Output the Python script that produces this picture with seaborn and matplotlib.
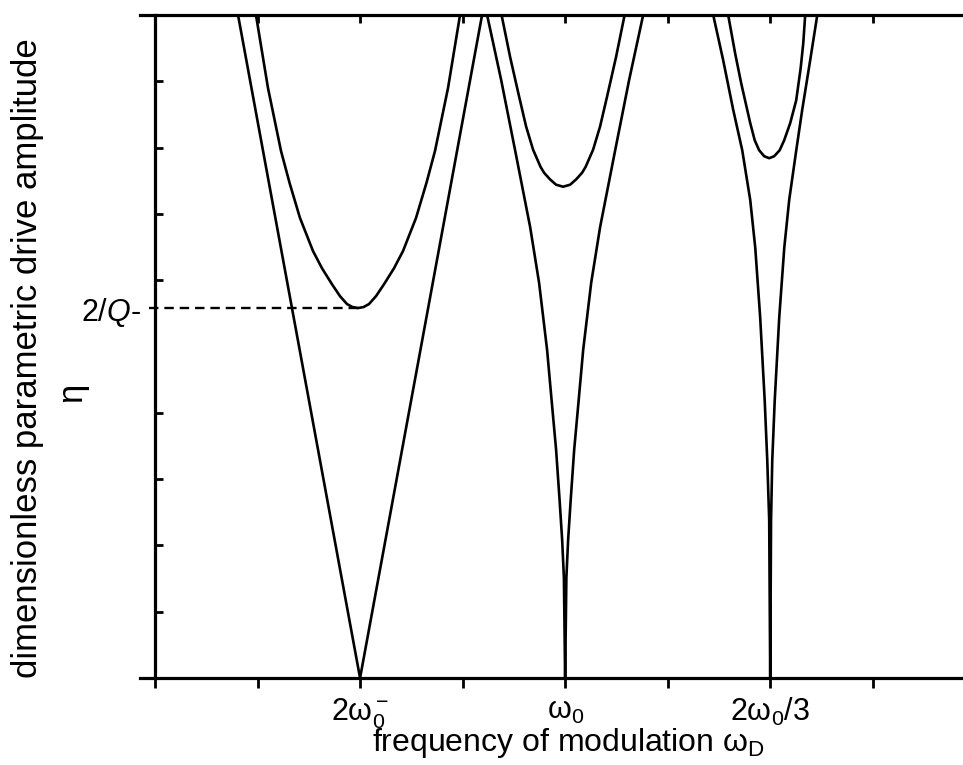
import matplotlib
matplotlib.use("Agg")
import matplotlib.pyplot as plt
from matplotlib.ticker import FixedLocator
import seaborn as sns

# --- valores (x em unidades de tick, y em unidades de tick) ---
two_over_q = 5.58          # limiar 2/Q (minimo da lingua 1 com amortecimento)
x_min_t1 = 1.98

# lingua 1 (2w0), sem amortecimento: V
t1_x = [0.81, 2.00, 3.19]
t1_y = [10.0, 0.0, 10.0]
# lingua 1 com amortecimento
t1d_x = [0.985, 1.102, 1.229, 1.312, 1.414, 1.541, 1.629, 1.726, 1.804, 1.873, 1.926, 1.980,
         2.034, 2.087, 2.156, 2.234, 2.331, 2.419, 2.546, 2.648, 2.731, 2.858, 2.975]
t1d_y = [10.0, 8.90, 7.95, 7.47, 6.94, 6.44, 6.18, 5.94, 5.76, 5.64, 5.595, 5.58,
         5.595, 5.64, 5.76, 5.94, 6.18, 6.44, 6.94, 7.47, 7.95, 8.90, 10.0]

# lingua 2 (w0), sem amortecimento
t2_x = [3.239, 3.376, 3.512, 3.659, 3.746, 3.824, 3.868, 3.912, 3.946, 3.971, 3.988, 4.000,
        4.012, 4.029, 4.054, 4.088, 4.132, 4.176, 4.254, 4.341, 4.488, 4.624, 4.761]
t2_y = [10.0, 9.02, 7.96, 6.80, 5.96, 4.95, 4.19, 3.44, 2.68, 2.08, 1.51, 0.0,
        1.51, 2.08, 2.68, 3.44, 4.19, 4.95, 5.96, 6.80, 7.96, 9.02, 10.0]
# lingua 2 com amortecimento
t2d_x = [3.380, 3.463, 3.551, 3.619, 3.687, 3.760, 3.795, 3.853, 3.912, 3.980,
         4.048, 4.107, 4.165, 4.200, 4.273, 4.341, 4.409, 4.497, 4.580]
t2d_y = [10.0, 9.37, 8.77, 8.32, 7.97, 7.71, 7.62, 7.52, 7.44, 7.41,
         7.44, 7.52, 7.62, 7.71, 7.97, 8.32, 8.77, 9.37, 10.0]

# lingua 3 (2w0/3), sem amortecimento
t3_x = [5.444, 5.541, 5.639, 5.727, 5.805, 5.854, 5.902, 5.946, 5.971, 5.990, 6.000,
        6.008, 6.020, 6.044, 6.088, 6.137, 6.185, 6.254, 6.312, 6.390, 6.459]
t3_y = [10.0, 9.32, 8.57, 7.96, 7.21, 6.49, 5.44, 4.19, 3.29, 2.38, 0.0,
        2.38, 3.29, 4.19, 5.44, 6.49, 7.21, 7.96, 8.57, 9.32, 10.0]
# lingua 3 com amortecimento
t3d_x = [5.590, 5.658, 5.717, 5.761, 5.805, 5.849, 5.892, 5.941, 5.990,
         6.039, 6.092, 6.136, 6.195, 6.253, 6.297, 6.322, 6.341]
t3d_y = [10.0, 9.42, 8.97, 8.67, 8.37, 8.11, 7.96, 7.87, 7.84,
         7.87, 7.96, 8.11, 8.37, 8.71, 9.20, 9.57, 10.0]

x_ticks = [0, 1, 2, 3, 4, 5, 6, 7]
x_ticklabels = ["", "", "2ω$_0^-$", "", "ω$_0$", "", "2ω$_0$/3", ""]
y_minor = [1, 2, 3, 4, 6, 7, 8, 9]

sns.set_style("ticks", rc={"axes.edgecolor": "black", "xtick.color": "black",
                           "ytick.color": "black", "text.color": "black",
                           "axes.labelcolor": "black"})
plt.rcParams["font.family"] = ["Liberation Sans", "DejaVu Sans"]
plt.rcParams["mathtext.fontset"] = "custom"
plt.rcParams["mathtext.rm"] = "Liberation Sans"
plt.rcParams["mathtext.it"] = "Liberation Sans:italic"

fig = plt.figure(figsize=(9.63, 7.65), dpi=100)
ax = fig.add_axes([140 / 963, 87 / 765, 823 / 963, 663 / 765])

curvas = [(t1_x, t1_y), (t1d_x, t1d_y), (t2_x, t2_y), (t2d_x, t2d_y),
          (t3_x, t3_y), (t3d_x, t3d_y)]
for cx, cy in curvas:
    sns.lineplot(x=cx, y=cy, sort=False, estimator=None, color="black",
                 linewidth=1.9, ax=ax)

# linha tracejada em 2/Q
ax.hlines(two_over_q, -0.06, x_min_t1, colors="black", linestyles=(0, (4, 2.5)),
          linewidth=1.7, clip_on=False)

ax.set_xlim(-0.146, 7.88)
ax.set_ylim(0, 10)

for s in ["left", "top", "bottom"]:
    ax.spines[s].set_linewidth(2.3)
ax.spines["right"].set_visible(False)
ax.spines["left"].set_position(("data", 0))

# eixo x (baixo): ticks para fora
ax.set_xticks(x_ticks)
ax.set_xticklabels(x_ticklabels, fontsize=22)
ax.tick_params(axis="x", direction="out", length=7, width=2, pad=6)

# eixo x (topo): ticks para dentro
sec = ax.secondary_xaxis("top")
sec.set_xticks(x_ticks[1:])
sec.set_xticklabels([])
sec.tick_params(direction="in", length=6, width=2)
sec.spines["top"].set_visible(False)

# eixo y: rotulo 2/Q, demais ticks para dentro
ax.set_yticks([two_over_q])
ax.set_yticklabels(["2/$Q$-"], fontsize=22)
ax.yaxis.set_minor_locator(FixedLocator(y_minor))
ax.tick_params(axis="y", which="major", length=0, pad=10)
ax.tick_params(axis="y", which="minor", direction="in", length=6, width=2)

ax.set_xlabel("frequency of modulation ω$_\\mathrm{D}$", fontsize=23)
ax.xaxis.set_label_coords(0.52, -0.072)
ax.set_ylabel("")
fig.text(28 / 963, 1 - 358 / 765, "dimensionless parametric drive amplitude",
         rotation=90, ha="center", va="center", fontsize=25)
fig.text(72 / 963, 1 - 392 / 765, "η", rotation=90, ha="center", va="center",
         fontsize=25)

fig.savefig("out.png", dpi=100)
